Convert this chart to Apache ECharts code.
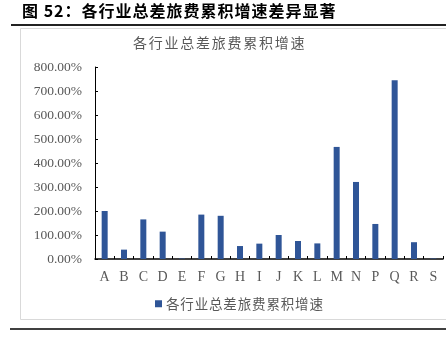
<!DOCTYPE html>
<html>
<head>
<meta charset="utf-8">
<script src="https://cdn.jsdelivr.net/npm/echarts@6/dist/echarts.min.js"></script>
<style>
  html, body { margin: 0; padding: 0; background: #fff; }
  #chart { width: 446px; height: 339px; }
</style>
</head>
<body>
<div id="chart"></div>
<script>
// Industry codes along the x axis
const categories = ['A', 'B', 'C', 'D', 'E', 'F', 'G', 'H', 'I', 'J', 'K', 'L', 'M', 'N', 'P', 'Q', 'R', 'S'];
// Cumulative growth of total travel expenses, in percent
const growth = [200, 39, 165, 114, 2, 185, 180, 54, 64, 100, 75, 65, 467, 321, 146, 745, 70, 2];
// Y axis range (percent)
const yMin = 0, yMax = 800, yStep = 100;

const headerText = '图 52：各行业总差旅费累积增速差异显著';
const chartTitle = '各行业总差旅费累积增速';
const seriesName = '各行业总差旅费累积增速';

// Loosen CJK text with hair spaces between characters
const loose = (s, n = 1) => s.split('').join('\u200A'.repeat(n));

const serif = '"Liberation Serif", "Times New Roman", serif';
const cjk = '"Noto Sans CJK SC", sans-serif';
const grey = '#595959';

const chart = echarts.init(document.getElementById('chart'), null, { renderer: 'canvas' });
chart.setOption({
  animation: false,
  backgroundColor: '#fff',
  graphic: [
    {
      type: 'text', left: 22, top: 3,
      style: { text: loose(headerText), font: 'bold 16px ' + cjk, fill: '#000' }
    },
    {
      type: 'text', left: 133, top: 36,
      style: { text: loose(chartTitle, 2), font: '14px ' + cjk, fill: grey }
    },
    { type: 'line', shape: { x1: 11, y1: 25, x2: 446, y2: 25 }, style: { stroke: '#222', lineWidth: 2 } },
    { type: 'line', shape: { x1: 20.5, y1: 28.5, x2: 446, y2: 28.5 }, style: { stroke: '#D9D9D9', lineWidth: 1 } },
    { type: 'line', shape: { x1: 20.5, y1: 28.5, x2: 20.5, y2: 319.5 }, style: { stroke: '#D9D9D9', lineWidth: 1 } },
    { type: 'line', shape: { x1: 20.5, y1: 319.5, x2: 446, y2: 319.5 }, style: { stroke: '#D9D9D9', lineWidth: 1 } },
    { type: 'line', shape: { x1: 10, y1: 329, x2: 446, y2: 329 }, style: { stroke: '#404040', lineWidth: 2 } }
  ],
  legend: {
    data: [seriesName],
    left: 150, top: 292,
    itemWidth: 7, itemHeight: 7, itemGap: 4,
    icon: 'rect',
    formatter: name => loose(name),
    textStyle: { fontFamily: cjk, fontSize: 13.5, color: grey, padding: [0, 0, 0, -1] }
  },
  grid: { left: 95, right: 3, top: 67, bottom: 80, containLabel: false },
  xAxis: {
    type: 'category',
    data: categories,
    axisLine: { lineStyle: { color: '#000', width: 1.5 } },
    axisTick: { show: true, inside: true, length: 3, lineStyle: { color: '#000' } },
    axisLabel: { fontFamily: serif, fontSize: 14, color: grey, margin: 11 }
  },
  yAxis: {
    type: 'value',
    min: yMin, max: yMax, interval: yStep,
    splitLine: { show: false },
    axisLine: { show: true, lineStyle: { color: '#000', width: 1 } },
    axisTick: { show: true, inside: true, length: 3, lineStyle: { color: '#000' } },
    axisLabel: {
      fontFamily: serif, fontSize: 13.5, color: grey, margin: 13,
      formatter: v => v.toFixed(2) + '%'
    }
  },
  series: [{
    name: seriesName,
    type: 'bar',
    data: growth,
    barWidth: 6,
    itemStyle: { color: '#2F5597' }
  }]
});
</script>
</body>
</html>
